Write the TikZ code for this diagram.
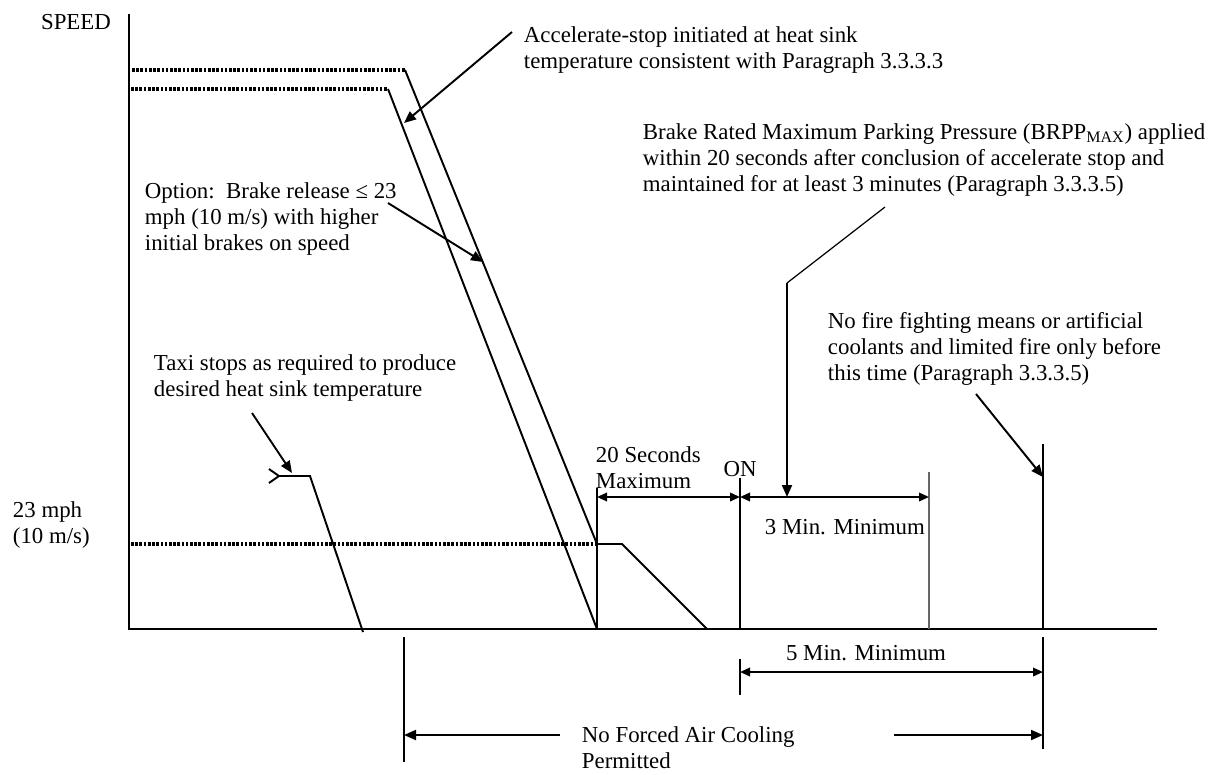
\documentclass[tikz,border=0pt]{standalone}
\usepackage{fontspec}
\setmainfont{Liberation Serif}
\usetikzlibrary{arrows.meta}
\tikzset{
  every picture/.style={line width=1.1pt, x=0.02cm, y=-0.02cm},
  lbl/.style={anchor=base west, align=left, inner sep=0pt, font=\fontsize{13}{14.7}\selectfont},
  clbl/.style={lbl, anchor=center, align=center},
  arrow/.style={-{Triangle[length=2.4mm, width=2mm]}},
  dimarrow/.style={{Triangle[length=2mm, width=1.7mm]}-{Triangle[length=2mm, width=1.7mm]}},
  dots/.style={line width=1.9pt, dash pattern=on 1.5pt off 0.9pt},
  thinline/.style={line width=0.6pt, draw=black!60},
}
\begin{document}
\begin{tikzpicture}
  \useasboundingbox (0,0) rectangle (1212,774);
  % axes
  \coordinate (ytop) at (129,14);
  \coordinate (origin) at (129,629);
  \coordinate (xend) at (1157,629);
  \draw (ytop) -- (origin) -- (xend);
  \node[clbl] (speed) at (76,22) {SPEED};
  \node[lbl] (mph) at (12,543) {23 mph\\(10 m/s)};

  % speed traces
  \coordinate (hiA) at (132,70);
  \coordinate (hiB) at (405,70);
  \coordinate (loA) at (131,89);
  \coordinate (loB) at (388,89);
  \coordinate (relA) at (131,544);
  \coordinate (relB) at (597,544);
  \coordinate (relC) at (622,544);
  \coordinate (relD) at (707,629);
  \coordinate (stop) at (597,629);
  \draw[dots] (hiA) -- (hiB);
  \draw[dots] (loA) -- (loB);
  \draw[dots] (relA) -- (relB);
  \draw (hiB) -- (relB) -- (relC) -- (relD);
  \draw (loB) -- (stop);
  \coordinate (taxiA) at (268,476);
  \coordinate (taxiB) at (310,476);
  \coordinate (taxiC) at (363,632);
  \draw[{Straight Barb[reversed, length=2mm, width=2.8mm]}-] (taxiA) -- (taxiB) -- (taxiC);

  % time marks
  \coordinate (t20top) at (597,488);
  \coordinate (ontop) at (740,478);
  \coordinate (ont) at (740,629);
  \coordinate (t3top) at (929,472);
  \coordinate (t3) at (929,629);
  \coordinate (t5top) at (1043,444);
  \coordinate (t5) at (1043,629);
  \draw (t20top) -- (stop);
  \draw (ontop) -- (ont);
  \draw[thinline] (t3top) -- (t3);
  \draw (t5top) -- (t5);
  \coordinate (airA) at (404,637);
  \coordinate (airB) at (404,762);
  \coordinate (fiveA) at (740,659);
  \coordinate (fiveB) at (740,695);
  \coordinate (endA) at (1043,637);
  \coordinate (endB) at (1043,749);
  \draw (airA) -- (airB);
  \draw (fiveA) -- (fiveB);
  \draw (endA) -- (endB);

  % dimension arrows
  \coordinate (d20L) at (597,497);
  \coordinate (d20R) at (740,497);
  \coordinate (d3R) at (929,497);
  \coordinate (d5L) at (740,672);
  \coordinate (d5R) at (1043,672);
  \draw[dimarrow] (d20L) -- (d20R);
  \draw[dimarrow] (d20R) -- (d3R);
  \draw[dimarrow] (d5L) -- (d5R);
  \node[lbl] (twenty) at (595,488) {20 Seconds\\Maximum};
  \node[clbl] (on) at (740,469) {ON};
  \node[lbl] (threemin) at (764,534) {3 Min. Minimum};
  \node[clbl] (fivemin) at (866,653) {5 Min. Minimum};
  \node[lbl] (noair) at (581,768) {No Forced Air Cooling\\Permitted};
  \coordinate (noairL) at (560,735);
  \coordinate (noairR) at (894,735);
  \coordinate (noairLend) at (404,735);
  \coordinate (noairRend) at (1043,735);
  \draw[arrow] (noairL) -- (noairLend);
  \draw[arrow] (noairR) -- (noairRend);

  % callouts
  \node[lbl] (accel) at (523,68) {Accelerate-stop initiated at heat sink\\temperature consistent with Paragraph 3.3.3.3};
  \coordinate (accelFrom) at (512,32);
  \coordinate (accelTo) at (404,123);
  \draw[arrow] (accelFrom) -- (accelTo);

  \node[lbl] (option) at (144,250) {Option:\ \ Brake release ≤ 23\\mph (10 m/s) with higher\\initial brakes on speed};
  \coordinate (optionFrom) at (388,203);
  \coordinate (optionTo) at (483,262);
  \draw[arrow] (optionFrom) -- (optionTo);

  \node[lbl] (taxi) at (153,396) {Taxi stops as required to produce\\desired heat sink temperature};
  \coordinate (taxiFrom) at (252,413);
  \coordinate (taxiTo) at (292,473);
  \draw[arrow] (taxiFrom) -- (taxiTo);

  \node[lbl] (brpp) at (642,191) {Brake Rated Maximum Parking Pressure (BRPP\textsubscript{MAX}) applied\\within 20 seconds after conclusion of accelerate stop and\\maintained for at least 3 minutes (Paragraph 3.3.3.5)};
  \coordinate (brppFrom) at (885,207);
  \coordinate (brppBend) at (787,283);
  \coordinate (brppTo) at (787,497);
  \draw[line width=0.7pt] (brppFrom) -- (brppBend);
  \draw[arrow] (brppBend) -- (brppTo);

  \node[lbl] (nofire) at (827,380) {No fire fighting means or artificial\\coolants and limited fire only before\\this time (Paragraph 3.3.3.5)};
  \coordinate (nofireFrom) at (976,394);
  \coordinate (nofireTo) at (1043,477);
  \draw[arrow] (nofireFrom) -- (nofireTo);
\end{tikzpicture}
\end{document}
